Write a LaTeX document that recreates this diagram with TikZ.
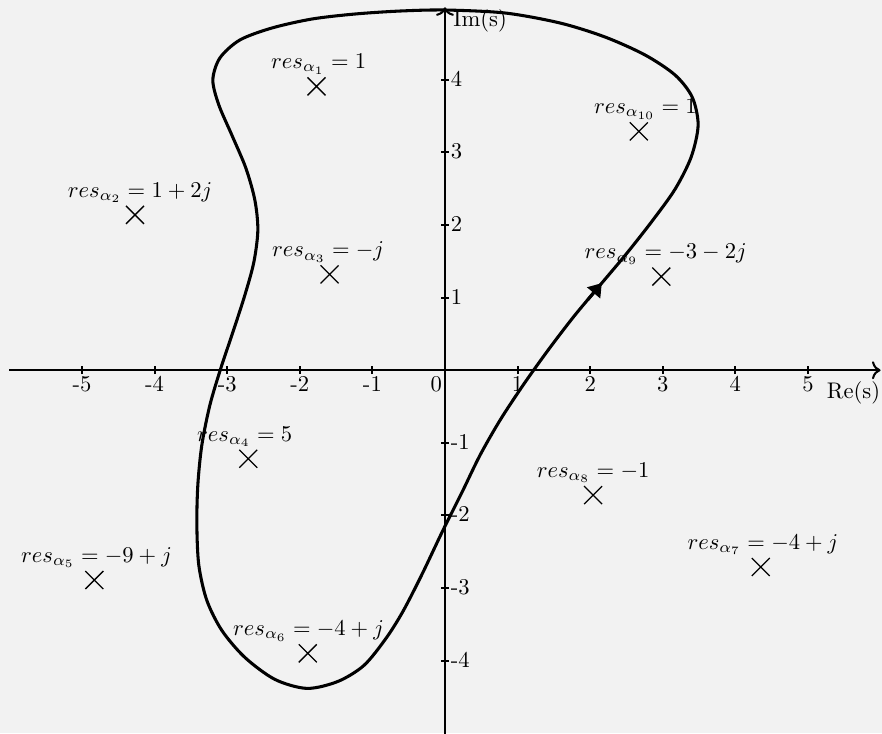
\documentclass[tikz,border=0pt]{standalone}
\usepackage{graphicx}
\usetikzlibrary{arrows.meta,shapes.misc}
\definecolor{bgc}{HTML}{F2F2F2}
\newcommand{\myscl}[1]{\scalebox{0.885}{#1}}
\begin{document}
\begin{tikzpicture}[x=1cm,y=1cm,
  axis/.style={thick,->},
  tickmark/.style={thick},
  xticklab/.style={inner sep=0pt, anchor=base},
  yticklab/.style={inner sep=0pt, anchor=base west},
  contour/.style={line width=1.2pt, line join=round},
  pole/.style={cross out, draw, line width=0.5pt, minimum size=0.23cm, inner sep=0pt},
  reslab/.style={inner sep=0pt, anchor=base},
  axlab/.style={inner sep=0pt}]
\fill[bgc] (-6.13,-5.0) rectangle (6.02,5.10);
\useasboundingbox (-6.13,-5.0) rectangle (6.02,5.10);
% axes
\coordinate (xs) at (-6,0);
\coordinate (xe) at (6,0);
\coordinate (ys) at (0,-5.05);
\coordinate (ye) at (0,5.0);
\draw[axis] (xs) -- (xe);
\draw[axis] (ys) -- (ye);
\foreach \x in {-5,-4,-3,-2,-1,1,2,3,4,5} {
  \draw[tickmark] (\x,-0.055) -- (\x,0.055);
  \node[xticklab] (xl\x) at (\x,-0.29) {\myscl{\x}};
}
\node[inner sep=0pt, anchor=base east] (xl0) at (-0.035,-0.29) {\myscl{0}};
\foreach \y in {-4,-3,-2,-1,1,2,3,4} {
  \draw[tickmark] (-0.055,\y) -- (0.055,\y);
  \node[yticklab] (yl\y) at (0.075,\y-0.09) {\myscl{\y}};
}
\node[axlab, anchor=base west] (im) at (0.11,4.74) {\myscl{Im(s)}};
\node[axlab, anchor=base east] (re) at (6.0,-0.39) {\myscl{Re(s)}};
% contour
\draw[contour] plot[smooth cycle, tension=0.5] coordinates {
 (0,4.962) (-0.620,4.948) (-1.240,4.907) (-1.833,4.838) (-2.385,4.714)
 (-2.826,4.549) (-3.101,4.301) (-3.198,3.997) (-3.115,3.653) (-2.936,3.239)
 (-2.743,2.784) (-2.619,2.343) (-2.578,1.930) (-2.633,1.489) (-2.757,1.034)
 (-2.922,0.524) (-3.088,0.028) (-3.239,-0.482) (-3.350,-1.034) (-3.405,-1.585)
 (-3.418,-2.137) (-3.391,-2.688) (-3.281,-3.170) (-3.074,-3.584) (-2.757,-3.956)
 (-2.343,-4.259) (-1.902,-4.383) (-1.475,-4.287) (-1.116,-4.066) (-0.813,-3.694)
 (-0.579,-3.322) (-0.317,-2.812) (-0.028,-2.205) (0.234,-1.682) (0.482,-1.172)
 (0.758,-0.689) (1.075,-0.207) (1.420,0.276) (1.778,0.744) (2.136,1.172)
 (2.495,1.599) (2.853,2.054) (3.170,2.495) (3.391,2.936) (3.487,3.377)
 (3.405,3.763) (3.170,4.066) (2.757,4.342) (2.205,4.590) (1.585,4.783)
 (0.827,4.921)};
\coordinate (arrs) at (1.967,0.970);
\coordinate (arrt) at (2.16,1.20);
\draw[line width=1.2pt, -{Triangle[length=5pt,width=6.5pt]}] (arrs) -- (arrt);
% poles and residues
\node[pole] (p1) at (-1.77,3.91) {};
\node[reslab] (r1) at (-1.74,4.155) {\myscl{$res_{\alpha_1} = 1$}};
\node[pole] (p2) at (-4.27,2.14) {};
\node[reslab] (r2) at (-4.20,2.385) {\myscl{$res_{\alpha_2} = 1 + 2j$}};
\node[pole] (p3) at (-1.59,1.32) {};
\node[reslab] (r3) at (-1.61,1.565) {\myscl{$res_{\alpha_3} = -j$}};
\node[pole] (p4) at (-2.71,-1.22) {};
\node[reslab] (r4) at (-2.76,-0.975) {\myscl{$res_{\alpha_4} = 5$}};
\node[pole] (p5) at (-4.83,-2.89) {};
\node[reslab] (r5) at (-4.80,-2.645) {\myscl{$res_{\alpha_5} = -9 + j$}};
\node[pole] (p6) at (-1.89,-3.90) {};
\node[reslab] (r6) at (-1.88,-3.655) {\myscl{$res_{\alpha_6} = -4 + j$}};
\node[pole] (p7) at (4.35,-2.71) {};
\node[reslab] (r7) at (4.38,-2.465) {\myscl{$res_{\alpha_7} = -4 + j$}};
\node[pole] (p8) at (2.04,-1.72) {};
\node[reslab] (r8) at (2.04,-1.475) {\myscl{$res_{\alpha_8} = -1$}};
\node[pole] (p9) at (2.98,1.29) {};
\node[reslab] (r9) at (3.04,1.535) {\myscl{$res_{\alpha_9} = -3 - 2j$}};
\node[pole] (p10) at (2.67,3.29) {};
\node[reslab] (r10) at (2.76,3.535) {\myscl{$res_{\alpha_{10}} = 1$}};
\end{tikzpicture}
\end{document}
